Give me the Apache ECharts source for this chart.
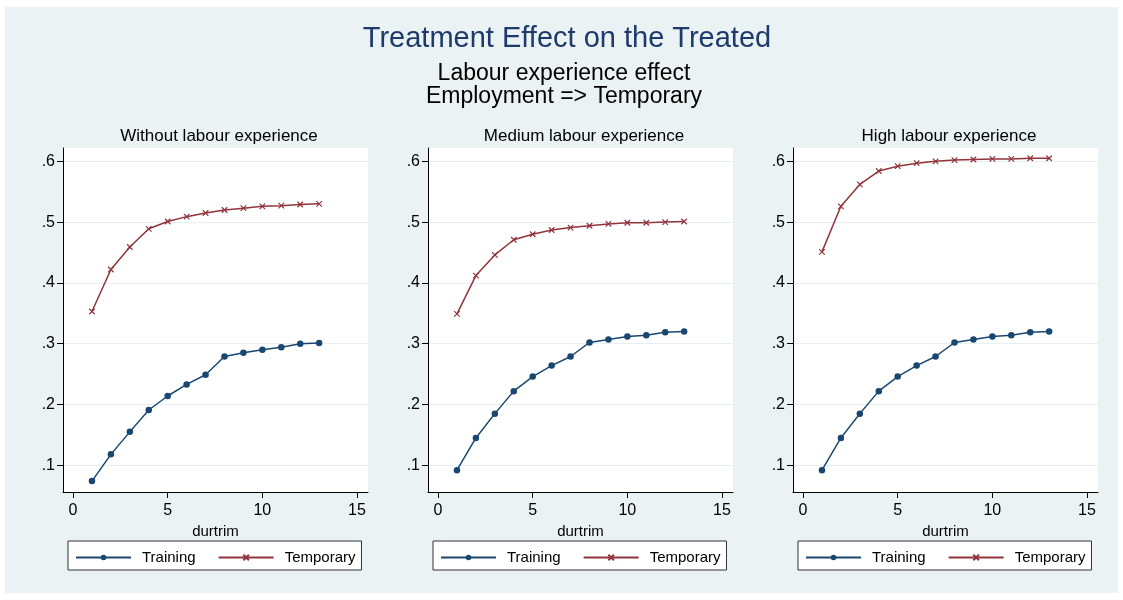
<!DOCTYPE html>
<html>
<head>
<meta charset="utf-8">
<script src="https://cdn.jsdelivr.net/npm/echarts@6/dist/echarts.min.js"></script>
<style>
  html, body { margin: 0; padding: 0; background: #ffffff; }
  #chart { position: absolute; left: 5px; top: 7px; width: 1113px; height: 586px; }
</style>
</head>
<body>
<div id="chart"></div>
<script>
// Duration (quarters) on the x axis
const durtrim = [1, 2, 3, 4, 5, 6, 7, 8, 9, 10, 11, 12, 13];

// Without labour experience
const trainingWithout  = [0.074, 0.118, 0.155, 0.191, 0.214, 0.233, 0.249, 0.279, 0.285, 0.290, 0.294, 0.300, 0.301];
const temporaryWithout = [0.353, 0.422, 0.459, 0.489, 0.501, 0.509, 0.515, 0.520, 0.523, 0.526, 0.527, 0.529, 0.530];

// Medium labour experience
const trainingMedium  = [0.092, 0.145, 0.185, 0.222, 0.246, 0.264, 0.279, 0.302, 0.307, 0.312, 0.314, 0.319, 0.320];
const temporaryMedium = [0.349, 0.412, 0.446, 0.471, 0.480, 0.487, 0.491, 0.494, 0.497, 0.499, 0.499, 0.500, 0.501];

// High labour experience
const trainingHigh  = [0.092, 0.145, 0.185, 0.222, 0.246, 0.264, 0.279, 0.302, 0.307, 0.312, 0.314, 0.319, 0.320];
const temporaryHigh = [0.451, 0.526, 0.562, 0.584, 0.592, 0.597, 0.600, 0.602, 0.603, 0.604, 0.604, 0.605, 0.605];

const panelTitles = ['Without labour experience', 'Medium labour experience', 'High labour experience'];
const xTicks = [0, 5, 10, 15];
const yTicks = [0.1, 0.2, 0.3, 0.4, 0.5, 0.6];

const panels = [
  { training: trainingWithout, temporary: temporaryWithout },
  { training: trainingMedium,  temporary: temporaryMedium },
  { training: trainingHigh,    temporary: temporaryHigh }
];

const NAVY = '#1a476f';
const MAROON = '#90353b';
const FONT = '"Liberation Sans", Arial, sans-serif';

const gridLeft = [58, 423, 788];
const gridTop = 141, gridW = 305, gridH = 344;

const pairs = arr => durtrim.map((d, i) => [d, arr[i]]);

const grids = [], xAxes = [], yAxes = [], series = [], titles = [], legends = [];

titles.push({
  text: 'Treatment Effect on the Treated',
  left: 562, top: 32, textAlign: 'center', textVerticalAlign: 'middle', padding: 0,
  textStyle: { fontFamily: FONT, fontSize: 29, fontWeight: 'normal', color: '#1e3a6b' }
});
titles.push({
  text: 'Labour experience effect',
  left: 559, top: 67, textAlign: 'center', textVerticalAlign: 'middle', padding: 0,
  textStyle: { fontFamily: FONT, fontSize: 23, fontWeight: 'normal', color: '#000' }
});
titles.push({
  text: 'Employment => Temporary',
  left: 559, top: 90, textAlign: 'center', textVerticalAlign: 'middle', padding: 0,
  textStyle: { fontFamily: FONT, fontSize: 23, fontWeight: 'normal', color: '#000' }
});

panels.forEach((p, i) => {
  grids.push({
    left: gridLeft[i], top: gridTop, width: gridW, height: gridH,
    show: true, backgroundColor: '#ffffff', borderWidth: 0, containLabel: false
  });
  titles.push({
    text: panelTitles[i],
    left: gridLeft[i] + gridW / 2 + 3.5, top: 129, textAlign: 'center', textVerticalAlign: 'middle', padding: 0,
    textStyle: { fontFamily: FONT, fontSize: 17, fontWeight: 'normal', color: '#000' }
  });
  xAxes.push({
    type: 'value', gridIndex: i, min: -0.53, max: 15.58,
    name: 'durtrim', nameLocation: 'middle', nameGap: 26,
    nameTextStyle: { fontFamily: FONT, fontSize: 15, color: '#000' },
    axisLine: { show: true, onZero: false, lineStyle: { color: '#000', width: 1 } },
    axisTick: { show: true, length: 6, lineStyle: { color: '#000' }, customValues: xTicks },
    axisLabel: { margin: 11, fontFamily: FONT, fontSize: 16, color: '#000', customValues: xTicks },
    splitLine: { show: false }
  });
  yAxes.push({
    type: 'value', gridIndex: i, min: 0.0561, max: 0.6219,
    axisLine: { show: true, onZero: false, lineStyle: { color: '#000', width: 1 } },
    axisTick: { show: true, length: 6, lineStyle: { color: '#000' }, customValues: yTicks },
    axisLabel: {
      margin: 8, fontFamily: FONT, fontSize: 16, color: '#000', customValues: yTicks,
      formatter: v => v.toFixed(1).replace(/^0/, '')
    },
    splitLine: { show: true, customValues: yTicks, lineStyle: { color: '#e6eff1', width: 1.2 } }
  });
  series.push({
    name: 'Training', type: 'line', xAxisIndex: i, yAxisIndex: i,
    data: pairs(p.training),
    symbol: 'circle', symbolSize: 6.5, showSymbol: true,
    lineStyle: { color: NAVY, width: 1.5 },
    itemStyle: { color: NAVY },
    animation: false
  });
  series.push({
    name: 'Temporary', type: 'line', xAxisIndex: i, yAxisIndex: i,
    data: pairs(p.temporary),
    symbol: 'path://M0,0L10,10M10,0L0,10', symbolSize: 5.5, showSymbol: true,
    lineStyle: { color: MAROON, width: 1.5 },
    itemStyle: { color: MAROON, borderColor: MAROON, borderWidth: 1.2 },
    animation: false
  });
  legends.push({
    data: ['Training', 'Temporary'],
    left: gridLeft[i] + 5, top: 534,
    orient: 'horizontal',
    backgroundColor: '#ffffff', borderColor: '#333', borderWidth: 1, borderRadius: 0,
    padding: [9, 6, 5, 7],
    itemWidth: 55, itemHeight: 7, itemGap: 22,
    textStyle: { fontFamily: FONT, fontSize: 15, color: '#000', padding: [0, 0, 0, 6] },
    selectedMode: false
  });
});

const chart = echarts.init(document.getElementById('chart'), null, { renderer: 'canvas' });
chart.setOption({
  backgroundColor: '#eaf2f3',
  animation: false,
  title: titles,
  legend: legends,
  grid: grids,
  xAxis: xAxes,
  yAxis: yAxes,
  series: series
});
</script>
</body>
</html>
